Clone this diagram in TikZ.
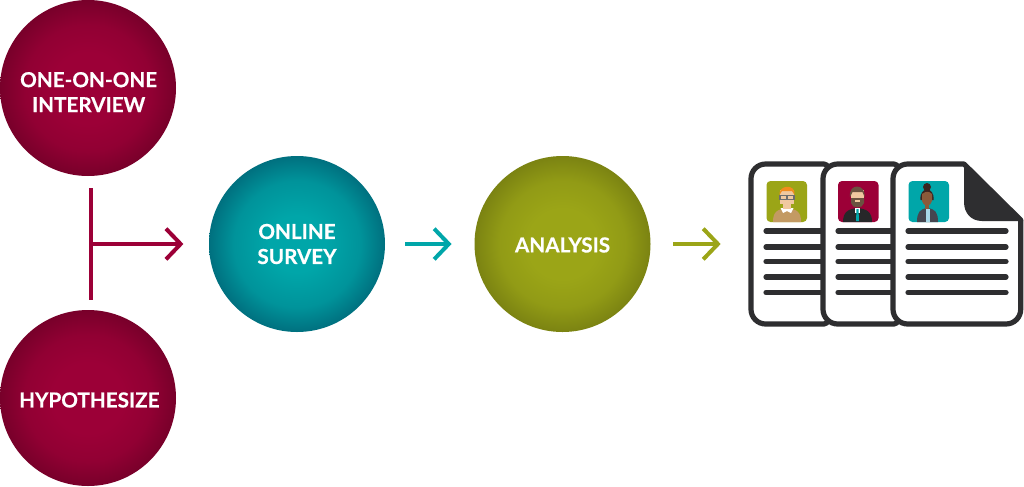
\documentclass[tikz,border=0pt]{standalone}
\usepackage{fontspec}
\setmainfont[BoldFeatures={FakeBold=0.4}]{Lato}
\usetikzlibrary{arrows.meta}
\definecolor{wineIn}{HTML}{9C0037}
\definecolor{wineOut}{HTML}{78002A}
\definecolor{tealIn}{HTML}{00A6A9}
\definecolor{tealOut}{HTML}{00707F}
\definecolor{oliveIn}{HTML}{9BA517}
\definecolor{oliveOut}{HTML}{7B8312}
\definecolor{ink}{HTML}{2E2E30}
\definecolor{skinA}{HTML}{F0C8A0}
\definecolor{hairA}{HTML}{F28C1E}
\definecolor{sweater}{HTML}{C39A63}
\definecolor{hairB}{HTML}{6B5240}
\definecolor{skinB}{HTML}{8A5A3A}
\definecolor{hairC}{HTML}{3A2420}
\definecolor{jacket}{HTML}{454650}
\definecolor{shirt}{HTML}{A8D8E8}
\pgfdeclareradialshading{wineball}{\pgfpointorigin}{color(0bp)=(wineIn); color(10bp)=(wineIn); color(18bp)=(wineIn!70!wineOut); color(25bp)=(wineOut); color(50bp)=(wineOut)}
\pgfdeclareradialshading{tealball}{\pgfpointorigin}{color(0bp)=(tealIn); color(8bp)=(tealIn); color(18bp)=(tealIn!65!tealOut); color(25bp)=(tealOut); color(50bp)=(tealOut)}
\pgfdeclareradialshading{oliveball}{\pgfpointorigin}{color(0bp)=(oliveIn); color(10bp)=(oliveIn); color(18bp)=(oliveIn!70!oliveOut); color(25bp)=(oliveOut); color(50bp)=(oliveOut)}
\tikzset{
  x=0.75pt,y=-0.75pt,
  disc/.style={circle,minimum size=132pt,inner sep=0pt,text=white,align=center,
    font=\bfseries\fontsize{15.5}{18.75}\selectfont},
  wine/.style={disc,shading=wineball},
  tealdisc/.style={disc,shading=tealball},
  olivedisc/.style={disc,shading=oliveball},
  flow/.style={line width=3pt,-{Straight Barb[length=11pt,width=23pt,line width=3pt]}},
  page/.style={fill=white,draw=ink,line width=3.9pt,line join=round},
  textline/.style={draw=ink,line width=3.9pt,line cap=round},
  photo/.style={rounded corners=3pt},
}
\begin{document}
\begin{tikzpicture}
\useasboundingbox (0,0) rectangle (1024,486);
% discs
\node[wine] (interview) at (88,88) {\rule{0pt}{17.5pt}\hspace{1pt}ONE-ON-ONE\\\hspace{1pt}INTERVIEW};
\node[wine] (hypo) at (88,398) {\rule{0pt}{14.3pt}\hspace{2pt}HYPOTHESIZE};
\node[tealdisc] (survey) at (297,244) {ONLINE\\SURVEY};
\node[olivedisc] (analysis) at (562.5,244) {\rule{0pt}{12.8pt}ANALYSIS};
% connectors
\coordinate (vtop) at (91,188);
\coordinate (vbot) at (91,300);
\coordinate (join) at (91,244);
\coordinate (docs) at (750,244);
\draw[wineIn,line width=3pt] (vtop) -- (vbot);
\draw[flow,wineIn,shorten >=19pt] (join) -- (survey.west);
\draw[flow,tealIn,shorten <=15pt,shorten >=17pt] (survey.east) -- (analysis.west);
\draw[flow,oliveIn,shorten <=17pt,shorten >=22pt] (analysis.east) -- (docs);
% page 1
\draw[page,rounded corners=11pt] (790,164) -- (751,164) -- (751,324) -- (790,324) [rounded corners=3pt] -- (828,324) -- (828,164) -- cycle;
\foreach \y in {231,247,261.5,277,292.5}{\draw[textline] (766,\y) -- (826,\y);}
\fill[oliveIn,photo] (766.5,181) rectangle (807,222);
\fill[sweater] (773,222) .. controls (773,212) and (777,209) .. (787,208.5) .. controls (797,209) and (801,212) .. (801,222) -- cycle;
\fill[white] (780.5,208) -- (793.5,208) -- (791,213) -- (787,211) -- (783,213) -- cycle;
\fill[skinA] (780,190) rectangle (794,204);
\fill[skinA] (783,204) rectangle (791,209);
\fill[hairA] (779.5,195) .. controls (778,185) and (796,183) .. (794.5,195) -- (792,191) -- (782,191) -- cycle;
\draw[ink!70,line width=0.8pt] (780,195.5) rectangle (786.5,199.5) (787.5,195.5) rectangle (794,199.5);
% page 2
\draw[page,rounded corners=11pt] (860,164) -- (823,164) -- (823,324) -- (860,324) [rounded corners=3pt] -- (898,324) -- (898,164) -- cycle;
\foreach \y in {231,247,261.5,277,292.5}{\draw[textline] (838,\y) -- (896,\y);}
\fill[wineIn,photo] (838,181) rectangle (878.5,222);
\fill[ink!85!black] (843,222) .. controls (843,212) and (848,209) .. (857.5,208) .. controls (867,209) and (872,212) .. (872,222) -- cycle;
\fill[white] (855,208) -- (860,208) -- (860,213) -- (855,213) -- cycle;
\fill[tealIn] (856.5,209) -- (858.5,209) -- (859,221) -- (856,221) -- cycle;
\fill[skinA] (851,190) rectangle (864,203);
\fill[hairB] (851,198) -- (864,198) -- (864,203) .. controls (863,209) and (852,209) .. (851,203) -- cycle;
\fill[skinA] (855,200) rectangle (860,202);
\fill[hairB] (850,197) .. controls (848,183) and (866,183) .. (864.5,197) -- (862.5,192) -- (852.5,192) -- cycle;
% page 3
\draw[page,rounded corners=11pt] (964,164) -- (893,164) -- (893,324) -- (1020.7,324) [sharp corners] -- (1020.7,220) -- cycle;
\fill[ink] (964,164) -- (1023,219.5) -- (1023,221) -- (982,221) .. controls (971,221) and (964,213) .. (964,202) -- cycle;
\foreach \y in {231,247,261.5,277,292.5}{\draw[textline] (908,\y) -- (1006,\y);}
\fill[tealIn,photo] (908.5,181) rectangle (949,222);
\fill[jacket] (917,222) .. controls (917,212) and (920,209) .. (927.5,208) .. controls (935,209) and (938,212) .. (938,222) -- cycle;
\fill[shirt] (926,209) rectangle (930,222);
\fill[hairC] (927,187) circle[radius=4];
\fill[hairC] (920.5,200) .. controls (919,186) and (935,186) .. (933.5,200) -- cycle;
\fill[skinB] (922,194) .. controls (926,191) and (929,191) .. (932,194) -- (932,201) .. controls (931,207) and (923,207) .. (922,201) -- cycle;
\fill[skinB] (925,204) rectangle (929,209);
\end{tikzpicture}
\end{document}
